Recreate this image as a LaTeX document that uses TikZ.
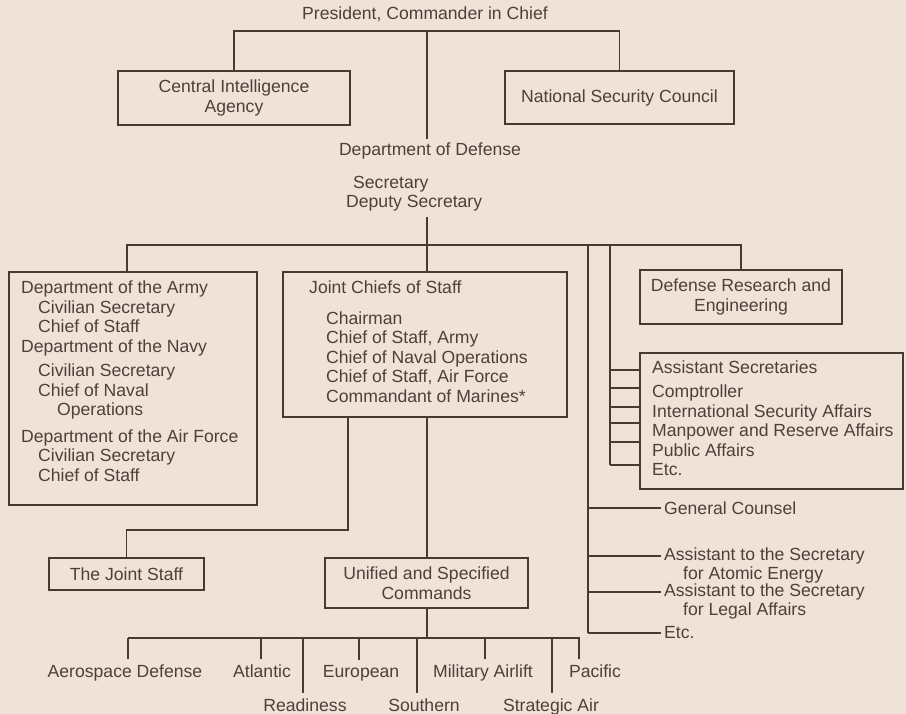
\documentclass[tikz,border=0pt]{standalone}
\usepackage{fontspec}
\setmainfont{Liberation Sans}
\definecolor{bg}{HTML}{EFE3D7}
\definecolor{ink}{HTML}{4A3833}
\definecolor{txt}{HTML}{4F3F3A}
\begin{document}
\begin{tikzpicture}[x=1pt,y=-1pt,
  every node/.style={font=\fontsize{17.6}{19.5}\selectfont, text=txt, inner sep=0pt},
  box/.style={draw=ink, line width=2.4pt, inner sep=0pt, align=center},
  wire/.style={draw=ink, line width=1.8pt},
  blk/.style={anchor=north west, align=left},
  side/.style={anchor=west, inner xsep=3pt},
  cmd/.style={anchor=base, inner ysep=5pt},
]
\fill[bg] (0,0) rectangle (906,714);
\useasboundingbox (0,0) rectangle (906,714);

% top level
\node (pres) at (425,14) {President, Commander in Chief};
\node[box, minimum width=232pt, minimum height=54pt] (cia) at (234,98) {Central Intelligence\\Agency};
\node[box, minimum width=229pt, minimum height=53pt] (nsc) at (619.5,97.5) {National Security Council};
\node[inner ysep=4pt] (dod) at (430,151) {Department of Defense};
\node[blk] (sec) at (346,176) {\hspace*{7pt}Secretary\\Deputy Secretary};

\coordinate (ptop) at (427,31);
\coordinate (secb) at (427,217);
\coordinate (hb) at (427,245);
\coordinate (armyc) at (127,272);

\draw[wire] (cia.north) |- (ptop) -| (nsc.north);
\draw[wire] (ptop) -- (ptop |- dod.north);
\draw[wire] (secb) -- (hb);

% second level
\node[box, minimum width=248pt, minimum height=233pt] (army) at (133,388.5) {};
\node[blk] (armyt) at (21,281) {Department of the Army\\
\hspace*{17pt}Civilian Secretary\\
\hspace*{17pt}Chief of Staff\\
Department of the Navy\\[5pt]
\hspace*{17pt}Civilian Secretary\\
\hspace*{17pt}Chief of Naval\\
\hspace*{36pt}Operations\\[7pt]
Department of the Air Force\\
\hspace*{17pt}Civilian Secretary\\
\hspace*{17pt}Chief of Staff};

\node[box, minimum width=284pt, minimum height=145pt] (jcs) at (425,344.5) {};
\node[blk] (jcst) at (309,281) {Joint Chiefs of Staff\\[11pt]
\hspace*{17pt}Chairman\\
\hspace*{17pt}Chief of Staff, Army\\
\hspace*{17pt}Chief of Naval Operations\\
\hspace*{17pt}Chief of Staff, Air Force\\
\hspace*{17pt}Commandant of Marines*};

\node[box, minimum width=202pt, minimum height=54pt] (dre) at (741,297) {Defense Research and\\Engineering};

\node[box, minimum width=263pt, minimum height=136pt] (as) at (771.5,421) {};
\node[blk] (ast) at (652,361) {Assistant Secretaries\\[4.5pt]
Comptroller\\
International Security Affairs\\
Manpower and Reserve Affairs\\
Public Affairs\\
Etc.};

\draw[wire] (armyc) |- (hb) -| (dre.north);
\draw[wire] (hb) -- (hb |- jcs.north);

% right-hand branches
\coordinate (r1) at (588,245);
\coordinate (r2) at (610,245);
\draw[wire] (r1) -- (588,633);
\draw[wire] (r2) -- (610,465);
\foreach \t in {370,388,407,423,442,465}
  \draw[wire] (610,\t) -- (as.west |- 0,\t);

\node[side] (gc) at (661,508) {General Counsel};
\node[side] (ate) at (661,556) {Assistant to the Secretary};
\node[anchor=west] (ate2) at (683,575) {for Atomic Energy};
\node[side] (ala) at (661,592) {Assistant to the Secretary};
\node[anchor=west] (ala2) at (683,611) {for Legal Affairs};
\node[side] (etc) at (661,633) {Etc.};
\foreach \n in {gc,ate,ala,etc}
  \draw[wire] (r1 |- \n.west) -- (\n.west);

% third level
\node[box, minimum width=155pt, minimum height=32pt] (js) at (126.5,574) {The Joint Staff};
\node[box, minimum width=203pt, minimum height=50pt] (uc) at (426.5,583) {Unified and Specified\\Commands};
\draw[wire] (jcs.south -| 348,0) |- (js.north |- 0,530) -- (js.north);
\draw[wire] (jcs.south -| hb) -- (uc.north -| hb);

% commands
\coordinate (bb) at (427,638);
\draw[wire] (uc.south -| bb) -- (bb);
\draw[wire] (128,638) -- (580,638);
\foreach \x/\c/\n/\y/\t in {
  128/125/aero/677/Aerospace Defense,
  261/262/atl/677/Atlantic,
  303/305/rdy/711/Readiness,
  359/361/eur/677/European,
  417/424/sou/711/Southern,
  485/483/mal/677/Military Airlift,
  552/551/sac/711/Strategic Air,
  579/595/pac/677/Pacific}
{
  \node[cmd] (\n) at (\c,\y) {\t};
  \draw[wire] (\x,638) -- (\x,0 |- \n.north);
}
\end{tikzpicture}
\end{document}
